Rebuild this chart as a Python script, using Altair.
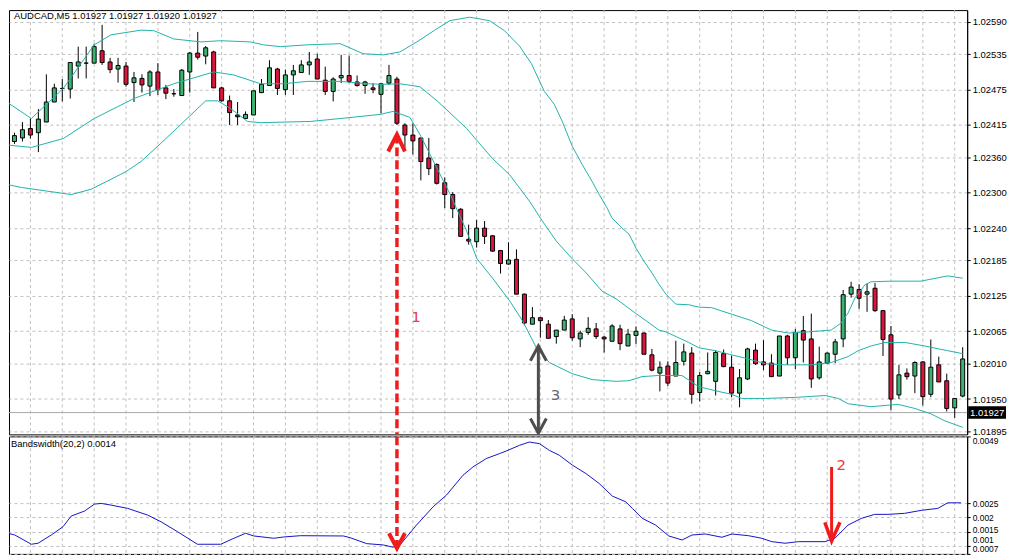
import altair as alt
import pandas as pd

# ---------------- data ----------------
opens = [1.02381, 1.02387, 1.02393, 1.02409, 1.02402, 1.02420, 1.02454, 1.02477, 1.02476, 1.02515,
         1.02520, 1.02520, 1.02541, 1.02522, 1.02510, 1.02515, 1.02487, 1.02494, 1.02481, 1.02505,
         1.02478, 1.02468, 1.02465, 1.02505, 1.02537, 1.02532, 1.02539, 1.02478, 1.02456, 1.02432,
         1.02426, 1.02432, 1.02470, 1.02482, 1.02510, 1.02475, 1.02500, 1.02504, 1.02517, 1.02527,
         1.02491, 1.02472, 1.02495, 1.02499, 1.02488, 1.02482, 1.02478, 1.02467, 1.02486, 1.02493,
         1.02415, 1.02398, 1.02393, 1.02359, 1.02348, 1.02317, 1.02297, 1.02272, 1.02221, 1.02217,
         1.02240, 1.02227, 1.02202, 1.02179, 1.02187, 1.02128, 1.02077, 1.02088, 1.02077, 1.02056,
         1.02067, 1.02086, 1.02052, 1.02063, 1.02069, 1.02055, 1.02048, 1.02069, 1.02040, 1.02058,
         1.02062, 1.02025, 1.01994, 1.02006, 1.01989, 1.02014, 1.02028, 1.01961, 1.01993, 1.01980,
         1.02027, 1.02004, 1.01960, 1.01984, 1.02033, 1.02013, 1.02011, 1.01989, 1.02057, 1.02020,
         1.02066, 1.02052, 1.01986, 1.02011, 1.02026, 1.02052, 1.02128, 1.02136, 1.02128, 1.02138,
         1.02100, 1.02059, 1.01957, 1.01994, 1.01989, 1.02013, 1.01958, 1.02008, 1.01981, 1.01935,
         1.01955]
highs = [1.02393, 1.02402, 1.02420, 1.02426, 1.02442, 1.02501, 1.02485, 1.02493, 1.02521, 1.02548,
         1.02548, 1.02553, 1.02585, 1.02529, 1.02529, 1.02522, 1.02505, 1.02501, 1.02508, 1.02520,
         1.02483, 1.02476, 1.02510, 1.02539, 1.02573, 1.02549, 1.02541, 1.02480, 1.02465, 1.02454,
         1.02438, 1.02473, 1.02493, 1.02525, 1.02512, 1.02509, 1.02517, 1.02525, 1.02539, 1.02536,
         1.02514, 1.02496, 1.02534, 1.02533, 1.02499, 1.02490, 1.02486, 1.02485, 1.02517, 1.02497,
         1.02418, 1.02418, 1.02393, 1.02393, 1.02350, 1.02326, 1.02301, 1.02274, 1.02246, 1.02254,
         1.02252, 1.02228, 1.02203, 1.02216, 1.02204, 1.02129, 1.02106, 1.02089, 1.02084, 1.02067,
         1.02091, 1.02094, 1.02066, 1.02089, 1.02079, 1.02057, 1.02077, 1.02076, 1.02069, 1.02073,
         1.02063, 1.02035, 1.02014, 1.02014, 1.02049, 1.02044, 1.02038, 1.01996, 1.02029, 1.02032,
         1.02034, 1.02024, 1.02001, 1.02037, 1.02044, 1.02050, 1.02026, 1.02057, 1.02059, 1.02069,
         1.02091, 1.02095, 1.02039, 1.02029, 1.02052, 1.02135, 1.02149, 1.02145, 1.02146, 1.02147,
         1.02100, 1.02074, 1.02008, 1.02002, 1.02014, 1.02014, 1.02051, 1.02022, 1.01993, 1.01951,
         1.02038]
lows = [1.02373, 1.02383, 1.02387, 1.02392, 1.02369, 1.02420, 1.02454, 1.02455, 1.02460, 1.02494,
        1.02494, 1.02520, 1.02517, 1.02503, 1.02487, 1.02480, 1.02454, 1.02470, 1.02464, 1.02466,
        1.02459, 1.02463, 1.02465, 1.02470, 1.02526, 1.02518, 1.02478, 1.02455, 1.02415, 1.02415,
        1.02425, 1.02432, 1.02469, 1.02482, 1.02466, 1.02466, 1.02466, 1.02504, 1.02500, 1.02493,
        1.02466, 1.02455, 1.02486, 1.02486, 1.02480, 1.02468, 1.02469, 1.02435, 1.02483, 1.02415,
        1.02373, 1.02365, 1.02321, 1.02330, 1.02314, 1.02274, 1.02257, 1.02226, 1.02212, 1.02207,
        1.02213, 1.02200, 1.02163, 1.02178, 1.02128, 1.02075, 1.02077, 1.02054, 1.02053, 1.02044,
        1.02067, 1.02049, 1.02038, 1.02059, 1.02052, 1.02029, 1.02048, 1.02033, 1.02040, 1.02043,
        1.02026, 1.01997, 1.01963, 1.01972, 1.01989, 1.02007, 1.01942, 1.01946, 1.01992, 1.01956,
        1.02004, 1.01953, 1.01936, 1.01982, 1.02008, 1.01999, 1.01988, 1.01989, 1.02008, 1.02001,
        1.02012, 1.01969, 1.01983, 1.02010, 1.02011, 1.02038, 1.02122, 1.02103, 1.02098, 1.02098,
        1.02023, 1.01931, 1.01950, 1.01983, 1.01960, 1.01939, 1.01953, 1.01979, 1.01929, 1.01918,
        1.01953]
closes = [1.02381, 1.02397, 1.02407, 1.02398, 1.02425, 1.02454, 1.02478, 1.02477, 1.02521, 1.02522,
          1.02520, 1.02548, 1.02521, 1.02509, 1.02516, 1.02484, 1.02495, 1.02483, 1.02505, 1.02475,
          1.02469, 1.02468, 1.02508, 1.02537, 1.02530, 1.02546, 1.02478, 1.02456, 1.02436, 1.02429,
          1.02433, 1.02473, 1.02484, 1.02512, 1.02477, 1.02500, 1.02507, 1.02517, 1.02522, 1.02493,
          1.02472, 1.02493, 1.02499, 1.02489, 1.02482, 1.02488, 1.02475, 1.02485, 1.02499, 1.02418,
          1.02398, 1.02388, 1.02353, 1.02341, 1.02316, 1.02297, 1.02273, 1.02226, 1.02218, 1.02240,
          1.02226, 1.02201, 1.02180, 1.02186, 1.02128, 1.02079, 1.02088, 1.02083, 1.02053, 1.02067,
          1.02084, 1.02054, 1.02062, 1.02070, 1.02056, 1.02052, 1.02074, 1.02044, 1.02060, 1.02065,
          1.02026, 1.01999, 1.02004, 1.01977, 1.02012, 1.02030, 1.01958, 1.01990, 1.01997, 1.02029,
          1.02005, 1.01960, 1.01986, 1.02035, 1.02010, 1.02008, 1.01988, 1.02057, 1.02020, 1.02063,
          1.02050, 1.01984, 1.02013, 1.02028, 1.02047, 1.02127, 1.02140, 1.02121, 1.02132, 1.02100,
          1.02051, 1.01950, 1.01991, 1.01988, 1.02012, 1.01954, 1.02004, 1.01979, 1.01934, 1.01951,
          1.02018]

upper_x = [-0.62, 3.12, 7.12, 11.0, 13.12, 16.88, 18.5, 21.0, 24.38, 26.88, 30.62, 32.25, 34.38,
           37.75, 41.88, 44.75, 47.25, 49.38, 51.5, 53.75, 55.62, 58.12, 60.62, 62.5, 64.38, 65.88,
           67.5, 68.75, 69.75, 71.0, 72.25, 73.5, 74.38, 75.38, 76.0, 77.25, 78.12, 79.0, 80.0, 81.0,
           81.88, 82.75, 84.0, 85.62, 86.88, 88.5, 91.0, 93.5, 96.0, 98.12, 100.62, 103.5, 104.75,
           105.62, 106.5, 107.75, 108.5, 111.0, 114.75, 118.12, 120.0]
upper_y = [1.02460, 1.02426, 1.02477, 1.02551, 1.02568, 1.02576, 1.02575, 1.02561, 1.02556, 1.02558,
           1.02556, 1.02551, 1.02548, 1.02551, 1.02553, 1.02536, 1.02534, 1.02539, 1.02556, 1.02576,
           1.02592, 1.02598, 1.02592, 1.02575, 1.02549, 1.02519, 1.02472, 1.02450, 1.02421, 1.02379,
           1.02348, 1.02319, 1.02297, 1.02274, 1.02257, 1.02240, 1.02230, 1.02206, 1.02184, 1.02164,
           1.02145, 1.02128, 1.02111, 1.02110, 1.02106, 1.02105, 1.02094, 1.02083, 1.02067, 1.02062,
           1.02064, 1.02067, 1.02079, 1.02096, 1.02122, 1.02144, 1.02149, 1.02150, 1.02150, 1.02159,
           1.02155]
mid_x = [-0.62, 3.12, 7.12, 11.0, 16.0, 21.0, 26.0, 28.5, 31.88, 34.75, 37.75, 41.88, 45.25, 47.25,
         49.38, 51.88, 54.12, 57.75, 61.0, 63.12, 65.62, 67.25, 69.0, 71.0, 72.75, 74.75, 76.5, 78.5,
         80.25, 81.88, 82.75, 85.62, 86.88, 89.0, 91.0, 93.12, 95.25, 97.75, 101.0, 103.5, 105.62,
         106.88, 108.5, 110.25, 112.75, 115.25, 118.12, 120.0]
mid_y = [1.02382, 1.02377, 1.02392, 1.02426, 1.02460, 1.02485, 1.02505, 1.02500, 1.02485, 1.02485,
         1.02489, 1.02489, 1.02485, 1.02484, 1.02485, 1.02480, 1.02455, 1.02409, 1.02358, 1.02331,
         1.02286, 1.02252, 1.02218, 1.02188, 1.02164, 1.02133, 1.02120, 1.02100, 1.02083, 1.02067,
         1.02064, 1.02046, 1.02037, 1.02032, 1.02025, 1.02018, 1.02010, 1.02008, 1.02008, 1.02012,
         1.02022, 1.02032, 1.02040, 1.02046, 1.02046, 1.02040, 1.02032, 1.02027]
low_x = [-0.62, 1.88, 5.0, 8.12, 10.62, 13.12, 15.0, 16.88, 19.38, 21.88, 25.0, 26.5, 28.12, 30.25,
         31.88, 38.12, 41.88, 46.88, 48.5, 49.38, 50.62, 51.88, 55.62, 57.75, 59.0, 61.0, 63.12,
         64.75, 66.5, 68.12, 71.0, 73.5, 76.5, 78.12, 79.75, 81.88, 84.75, 86.88, 89.0, 91.0, 92.25,
         95.25, 99.38, 102.75, 104.38, 105.62, 108.5, 111.88, 114.0, 116.0, 117.75, 120.0]
low_y = [1.02316, 1.02309, 1.02303, 1.02297, 1.02306, 1.02323, 1.02336, 1.02353, 1.02384, 1.02416,
         1.02456, 1.02456, 1.02443, 1.02421, 1.02419, 1.02421, 1.02426, 1.02433, 1.02438, 1.02434,
         1.02428, 1.02399, 1.02299, 1.02235, 1.02189, 1.02155, 1.02117, 1.02083, 1.02037, 1.02012,
         1.01993, 1.01983, 1.01980, 1.01981, 1.01988, 1.01990, 1.01990, 1.01971, 1.01964, 1.01958,
         1.01951, 1.01951, 1.01953, 1.01956, 1.01951, 1.01942, 1.01937, 1.01941, 1.01934, 1.01925,
         1.01913, 1.01902]

bw_x = [-0.62, 1.04, 3.12, 3.96, 5.62, 7.09, 8.12, 9.79, 11.04, 11.88, 13.12, 15.21, 17.71, 19.38,
        21.46, 23.96, 26.88, 28.54, 30.0, 31.04, 33.54, 34.79, 36.88, 42.29, 43.12, 45.21, 47.29,
        48.54, 49.38, 51.46, 53.54, 55.21, 57.29, 58.54, 60.21, 61.88, 62.71, 64.38, 65.62, 66.88,
        68.12, 69.38, 71.04, 72.71, 74.38, 76.04, 77.71, 78.54, 79.79, 81.46, 83.12, 84.79, 86.04,
        87.71, 89.79, 91.04, 93.12, 94.79, 96.04, 97.71, 99.38, 102.71, 103.96, 105.62, 107.29,
        108.96, 110.62, 112.71, 114.79, 116.88, 118.12, 119.79]
bw_y = [0.001494, 0.001376, 0.001045, 0.001081, 0.001376, 0.001672, 0.002053, 0.002231, 0.00248,
        0.002505, 0.002444, 0.002327, 0.002088, 0.00185, 0.001494, 0.001045, 0.001045, 0.001259,
        0.001437, 0.001341, 0.001259, 0.001305, 0.001351, 0.001341, 0.00128, 0.001067, 0.00102,
        0.000939, 0.00102, 0.001732, 0.002384, 0.0028, 0.003512, 0.003808, 0.004107, 0.004285,
        0.004377, 0.00458, 0.004698, 0.004641, 0.004402, 0.004224, 0.003868, 0.003573, 0.003217,
        0.002765, 0.002562, 0.002327, 0.001971, 0.001732, 0.001341, 0.001198, 0.001376, 0.001412,
        0.001295, 0.001412, 0.001351, 0.001259, 0.001138, 0.001081, 0.001138, 0.001138, 0.001259,
        0.001732, 0.001971, 0.002113, 0.002113, 0.002149, 0.002256, 0.002327, 0.002526, 0.002526]

price_ticks = [1.02590, 1.02535, 1.02475, 1.02415, 1.02360, 1.02300, 1.02240, 1.02185, 1.02125,
               1.02065, 1.02010, 1.01950, 1.01895]
bw_ticks = [0.0049, 0.0025, 0.002, 0.0015, 0.001, 0.0007]
grid_bars = list(range(3, 121, 4))
last_price = [1.01927]
header_text = ["AUDCAD,M5  1.01927 1.01927 1.01920 1.01927"]
bw_title_text = ["Bandswidth(20,2) 0.0014"]

# annotations (bar index, price / bandwidth value)
a1_x = [49.0, 49.0]
a1_price = [1.02399, 1.01890]
a1_head_x = [47.9, 49.0, 50.0]
a1_head_price = [1.02370, 1.02399, 1.02370]
a1_bw = [0.0049, 0.00090]
a1_bw_head_x = [48.0, 49.0, 50.0]
a1_bw_head = [0.00144, 0.00090, 0.00144]
a2_x = [103.55, 103.55]
a2_bw = [0.00381, 0.00116]
a2_head_x = [102.7, 103.55, 104.6]
a2_head = [0.00183, 0.00116, 0.00183]
a3_x = [66.75, 66.75]
a3_price = [1.02040, 1.01892]
a3_top_x = [65.75, 66.75, 67.75]
a3_top = [1.02015, 1.02040, 1.02015]
a3_bot_x = [65.75, 66.75, 67.75]
a3_bot = [1.01917, 1.01892, 1.01917]
label1 = {"bar": [51.4], "v": [1.02089], "t": ["1"]}
label2 = {"bar": [104.75], "v": [0.00389], "t": ["2"]}
label3 = {"bar": [68.9], "v": [1.01956], "t": ["3"]}

# ---------------- chart ----------------
GREEN = "#3CB371"
RED = "#DC143C"
TEAL = "#20B2AA"
GRID = "#c0c0c0"
FONT = "Liberation Sans"
W = 962

XS = alt.Scale(domain=[0.3125, 120.5625], nice=False, zero=False, padding=0)
YP = alt.Scale(domain=[1.01890, 1.02610], nice=False, zero=False)
YB = alt.Scale(domain=[0.0007, 0.0049], nice=False, zero=False)

axis_style = dict(orient="right", title=None, grid=True, gridColor=GRID, gridDash=[3, 3],
                  tickSize=3, tickColor="black", domainColor="black", labelColor="black",
                  labelFont=FONT, labelPadding=2, labelOverlap=False)
price_axis = alt.Axis(values=price_ticks, format=".5f", labelFontSize=9.5, **axis_style)
bw_axis = alt.Axis(
    values=bw_ticks, format="~g", labelFontSize=8.5,
    labelBaseline={
        "condition": [
            {"test": "datum.value > 0.0045", "value": "top"},
            {"test": "datum.value < 0.00125", "value": "bottom"},
        ],
        "value": "middle",
    },
    labelOffset={
        "condition": [
            {"test": "datum.value > 0.0009 && datum.value < 0.00125", "value": -1.5},
            {"test": "datum.value > 0.00125 && datum.value < 0.00175", "value": -2.5},
        ],
        "value": 0,
    },
    **axis_style)

n = len(opens)
candles = pd.DataFrame({"bar": list(range(n)), "open": opens, "high": highs, "low": lows,
                        "close": closes})
candles["dir"] = ["up" if c > o else ("down" if c < o else "flat") for o, c in zip(opens, closes)]
grid_df = pd.DataFrame({"bar": grid_bars})


def xenc():
    return alt.X("bar:Q", scale=XS, axis=None)


def yp(field):
    return alt.Y(field, scale=YP, axis=price_axis)


def yb(field):
    return alt.Y(field, scale=YB, axis=bw_axis)


def line(xs, ys, yfun, color, width, dash=None, join="miter"):
    df = pd.DataFrame({"bar": xs, "v": ys})
    kw = dict(color=color, strokeWidth=width, strokeCap="butt", strokeJoin=join, clip=True)
    if dash:
        kw["strokeDash"] = dash
    return alt.Chart(df).mark_line(**kw).encode(x=xenc(), y=yfun("v:Q"))


def vgrid():
    return alt.Chart(grid_df).mark_rule(color=GRID, strokeWidth=1, strokeDash=[3, 3]).encode(
        x=xenc())


wicks = alt.Chart(candles).mark_rule(color="black", strokeWidth=1, clip=True).encode(
    x=xenc(), y=yp("low:Q"), y2="high:Q")
bodies = alt.Chart(candles).mark_bar(size=4, stroke="black", strokeWidth=1, clip=True).encode(
    x=xenc(),
    y=yp("open:Q"),
    y2="close:Q",
    fill=alt.Fill("dir:N", scale=alt.Scale(domain=["up", "down", "flat"],
                                           range=[GREEN, RED, "#000000"]), legend=None),
)
cur_df = pd.DataFrame({"v": last_price, "t": [f"{p:.5f}" for p in last_price]})
cur_line = alt.Chart(cur_df).mark_rule(color="#a8a8a8", strokeWidth=1).encode(y=yp("v:Q"))
cur_box = alt.Chart(cur_df).mark_point(
    shape="M-1,-0.33L1,-0.33L1,0.33L-1,0.33Z", filled=True, color="black", opacity=1,
    size=1444).encode(x=alt.value(W + 20), y=yp("v:Q"))
cur_text = alt.Chart(cur_df).mark_text(color="white", font=FONT, fontSize=9.5, align="center",
                                       baseline="middle").encode(
    x=alt.value(W + 20), y=yp("v:Q"), text="t:N")
header = alt.Chart(pd.DataFrame({"t": header_text})).mark_text(
    align="left", baseline="middle", font=FONT, fontSize=9.5, color="black").encode(
    x=alt.value(5), y=alt.value(6), text="t:N")


def label(d, yfun, color):
    return alt.Chart(pd.DataFrame(d)).mark_text(font="DejaVu Sans", fontSize=15, color=color,
                                                align="center", baseline="middle").encode(
        x=xenc(), y=yfun("v:Q"), text="t:N")


RED_A = "#f01c1c"
GRAY_A = "#4d4d4d"

price_panel = alt.layer(
    vgrid(), cur_line, wicks, bodies,
    line(upper_x, upper_y, yp, TEAL, 1, join="round"),
    line(mid_x, mid_y, yp, TEAL, 1, join="round"),
    line(low_x, low_y, yp, TEAL, 1, join="round"),
    line(a1_x, a1_price, yp, RED_A, 3.5, dash=[9, 4]),
    line(a1_head_x, a1_head_price, yp, RED_A, 4),
    line(a3_x, a3_price, yp, GRAY_A, 3),
    line(a3_top_x, a3_top, yp, GRAY_A, 3),
    line(a3_bot_x, a3_bot, yp, GRAY_A, 3),
    label(label1, yp, "#e8403c"),
    label(label3, yp, "#666666"),
    cur_box, cur_text, header,
).properties(width=W, height=426)

bw_df = pd.DataFrame({"bar": bw_x, "v": bw_y})
bw_line = alt.Chart(bw_df).mark_line(color="#1414c8", strokeWidth=1, clip=True).encode(
    x=xenc(), y=yb("v:Q"))
bw_title = alt.Chart(pd.DataFrame({"t": bw_title_text})).mark_text(
    align="left", baseline="middle", font=FONT, fontSize=9.5, color="black").encode(
    x=alt.value(2), y=alt.value(8), text="t:N")

bw_panel = alt.layer(
    vgrid(), bw_line,
    line(a1_x, a1_bw, yb, RED_A, 3.5, dash=[9, 4]),
    line(a1_bw_head_x, a1_bw_head, yb, RED_A, 4),
    line(a2_x, a2_bw, yb, RED_A, 3),
    line(a2_head_x, a2_head, yb, RED_A, 3.5),
    label(label2, yb, "#e8403c"),
    bw_title,
).properties(width=W, height=118)

chart = alt.vconcat(price_panel, bw_panel, bounds="flush").resolve_scale(
    x="independent", y="independent"
).properties(
    padding=0,
    background="white",
).configure_view(stroke="black", strokeWidth=1).configure_concat(spacing=2)

chart.save("out.html", embed_options={"renderer": "svg", "actions": False})
